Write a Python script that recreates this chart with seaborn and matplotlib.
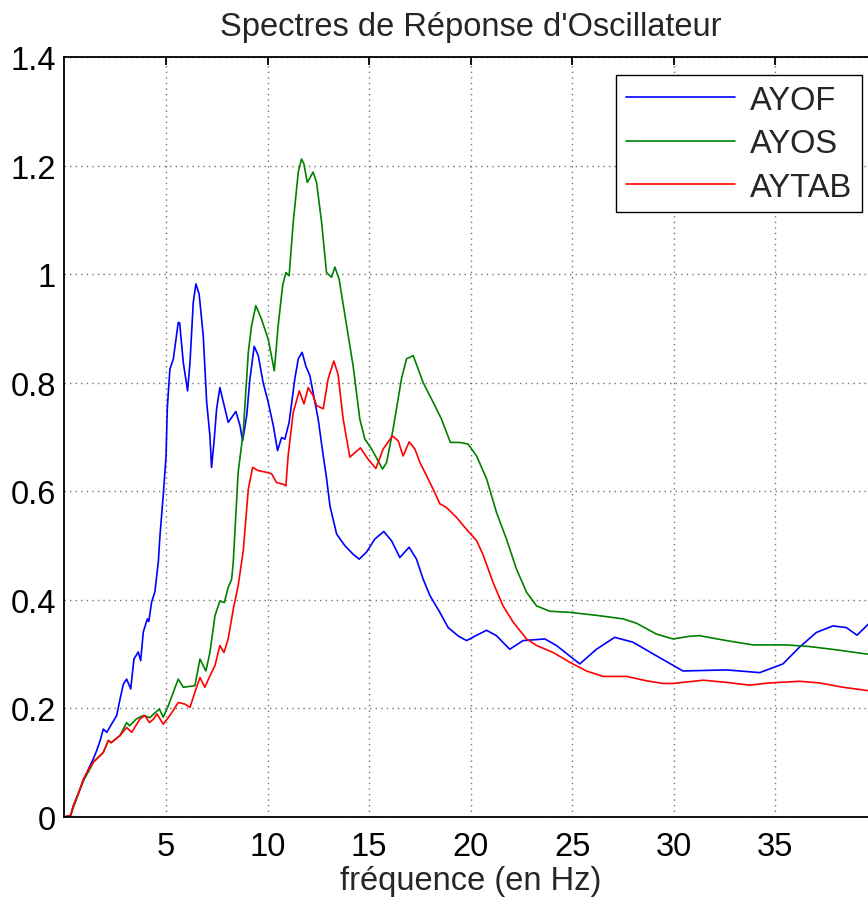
import matplotlib
matplotlib.use("Agg")
import matplotlib.pyplot as plt
import numpy as np
import pandas as pd
import seaborn as sns

# Oscillator response spectra (frequency in Hz, spectral amplitude)
freq_ayof = [0, 0.3, 0.43, 0.7, 0.93, 1.2, 1.42, 1.58, 1.75, 1.91, 2.08, 2.3, 2.57, 2.75, 2.9,
             3.06, 3.26, 3.42, 3.63, 3.75, 3.88, 4.08, 4.15, 4.29, 4.45, 4.62, 4.7, 4.86, 5.0,
             5.06, 5.19, 5.36, 5.6, 5.67, 5.85, 6.06, 6.18, 6.34, 6.47, 6.63, 6.83, 7.0, 7.16,
             7.24, 7.36, 7.49, 7.65, 8.06, 8.44, 8.64, 8.77, 8.97, 9.13, 9.34, 9.54, 9.78, 10.03,
             10.28, 10.49, 10.69, 10.85, 11.06, 11.34, 11.51, 11.7, 11.88, 12.08, 12.24, 12.49,
             12.74, 12.9, 13.07, 13.4, 13.8, 14.21, 14.51, 14.87, 15.28, 15.72, 16.1, 16.51,
             16.97, 17.33, 17.66, 17.99, 18.48, 18.89, 19.4, 19.8, 20.3, 20.78, 21.27, 21.92,
             22.58, 23.65, 24.22, 25.37, 26.19, 27.09, 27.99, 29.14, 30.45, 32.59, 34.23, 35.37,
             36.19, 37.02, 37.83, 38.49, 39.02, 39.54, 39.9]
amp_ayof = [0, 0.003, 0.018, 0.045, 0.067, 0.09, 0.107, 0.122, 0.14, 0.162, 0.156, 0.17, 0.187,
            0.22, 0.245, 0.254, 0.236, 0.291, 0.304, 0.288, 0.341, 0.365, 0.36, 0.396, 0.415,
            0.47, 0.518, 0.592, 0.665, 0.752, 0.825, 0.844, 0.911, 0.91, 0.837, 0.785, 0.838,
            0.948, 0.982, 0.963, 0.887, 0.764, 0.702, 0.644, 0.69, 0.752, 0.791, 0.727, 0.747,
            0.721, 0.693, 0.739, 0.807, 0.867, 0.85, 0.8, 0.764, 0.721, 0.675, 0.699, 0.696,
            0.727, 0.807, 0.844, 0.856, 0.831, 0.813, 0.782, 0.733, 0.665, 0.625, 0.573, 0.521,
            0.5, 0.484, 0.475, 0.488, 0.512, 0.526, 0.509, 0.478, 0.497, 0.475, 0.438, 0.408,
            0.377, 0.349, 0.333, 0.325, 0.335, 0.344, 0.334, 0.309, 0.325, 0.328, 0.316, 0.282,
            0.309, 0.331, 0.322, 0.297, 0.269, 0.271, 0.266, 0.282, 0.313, 0.34, 0.352, 0.349,
            0.335, 0.354, 0.365]

freq_ayos = [0, 0.3, 0.43, 0.7, 0.93, 1.2, 1.42, 1.91, 2.16, 2.3, 2.73, 3.06, 3.2, 3.55, 3.88,
             4.2, 4.4, 4.67, 4.86, 5.11, 5.36, 5.6, 5.85, 6.42, 6.67, 6.96, 7.16, 7.41, 7.65,
             7.87, 8.06, 8.23, 8.31, 8.55, 8.8, 9.05, 9.21, 9.42, 9.7, 10.03, 10.33, 10.52, 10.74,
             10.9, 11.06, 11.26, 11.51, 11.67, 11.79, 11.95, 12.05, 12.24, 12.41, 12.66, 12.9,
             13.15, 13.31, 13.52, 13.89, 14.21, 14.54, 14.79, 15.12, 15.44, 15.66, 15.86, 16.18,
             16.59, 16.84, 17.17, 17.66, 18.15, 18.56, 19.0, 19.46, 19.87, 20.29, 20.78, 21.27,
             21.76, 22.25, 22.75, 23.24, 23.89, 24.88, 26.3, 27.5, 28.16, 29.14, 29.96, 30.78,
             31.27, 32.59, 33.9, 35.54, 36.69, 38.0, 39.54, 39.9]
amp_ayos = [0, 0.003, 0.018, 0.045, 0.067, 0.085, 0.101, 0.119, 0.141, 0.137, 0.15, 0.174,
            0.168, 0.181, 0.187, 0.183, 0.19, 0.199, 0.184, 0.205, 0.23, 0.254, 0.239, 0.242,
            0.291, 0.269, 0.303, 0.371, 0.398, 0.395, 0.423, 0.438, 0.47, 0.635, 0.709, 0.856,
            0.905, 0.942, 0.917, 0.88, 0.822, 0.905, 0.979, 1.003, 0.997, 1.095, 1.188, 1.212,
            1.203, 1.169, 1.175, 1.188, 1.169, 1.095, 1.003, 0.994, 1.013, 0.991, 0.905, 0.831,
            0.733, 0.696, 0.678, 0.656, 0.641, 0.653, 0.715, 0.807, 0.844, 0.85, 0.8, 0.764,
            0.733, 0.69, 0.69, 0.687, 0.665, 0.623, 0.561, 0.512, 0.457, 0.414, 0.389, 0.379,
            0.377, 0.371, 0.365, 0.357, 0.337, 0.328, 0.333, 0.334, 0.325, 0.317, 0.317, 0.314,
            0.308, 0.3, 0.298]

freq_aytab = [0, 0.3, 0.43, 0.7, 0.93, 1.2, 1.42, 1.91, 2.16, 2.3, 2.73, 3.06, 3.31, 3.72, 3.96,
              4.18, 4.4, 4.55, 4.7, 4.86, 5.19, 5.6, 5.93, 6.18, 6.42, 6.67, 6.91, 7.16, 7.41,
              7.65, 7.85, 8.06, 8.31, 8.55, 8.8, 9.05, 9.26, 9.54, 9.95, 10.2, 10.44, 10.77, 10.9,
              11.01, 11.26, 11.56, 11.79, 12.0, 12.24, 12.41, 12.74, 12.98, 13.26, 13.47, 13.72,
              14.05, 14.57, 14.95, 15.33, 15.69, 16.15, 16.43, 16.67, 16.97, 17.25, 17.5, 17.82,
              18.15, 18.48, 18.81, 19.3, 19.79, 20.29, 20.61, 21.1, 21.59, 22.09, 22.75, 23.24,
              24.06, 24.88, 25.7, 26.52, 27.67, 28.65, 29.47, 29.96, 31.44, 32.59, 33.74, 34.72,
              36.19, 37.18, 38.33, 39.54, 39.9]
amp_aytab = [0, 0.003, 0.021, 0.045, 0.07, 0.088, 0.101, 0.119, 0.141, 0.137, 0.15, 0.165, 0.156,
             0.181, 0.187, 0.174, 0.181, 0.19, 0.181, 0.171, 0.187, 0.211, 0.208, 0.202, 0.23,
             0.257, 0.239, 0.26, 0.279, 0.316, 0.303, 0.328, 0.383, 0.426, 0.49, 0.604, 0.644,
             0.638, 0.635, 0.632, 0.616, 0.613, 0.61, 0.665, 0.745, 0.785, 0.761, 0.791, 0.776,
             0.758, 0.752, 0.807, 0.84, 0.815, 0.733, 0.663, 0.68, 0.659, 0.642, 0.678, 0.702,
             0.693, 0.665, 0.691, 0.678, 0.653, 0.629, 0.604, 0.577, 0.57, 0.552, 0.53, 0.509,
             0.483, 0.432, 0.389, 0.359, 0.328, 0.316, 0.303, 0.285, 0.269, 0.259, 0.259, 0.251,
             0.246, 0.246, 0.252, 0.248, 0.243, 0.247, 0.25, 0.247, 0.239, 0.233, 0.231]

series_names = ["AYOF", "AYOS", "AYTAB"]
series_colors = ["#0000ff", "#008000", "#ff0000"]
x_ticks = [5, 10, 15, 20, 25, 30, 35]
y_ticks = [0, 0.2, 0.4, 0.6, 0.8, 1.0, 1.2, 1.4]
y_tick_labels = ["0", "0.2", "0.4", "0.6", "0.8", "1", "1.2", "1.4"]

df = pd.concat([
    pd.DataFrame({"freq": freq_ayof, "amp": amp_ayof, "signal": "AYOF"}),
    pd.DataFrame({"freq": freq_ayos, "amp": amp_ayos, "signal": "AYOS"}),
    pd.DataFrame({"freq": freq_aytab, "amp": amp_aytab, "signal": "AYTAB"}),
], ignore_index=True)

sns.set_theme(style="white")
plt.rcParams["font.family"] = ["Liberation Sans", "DejaVu Sans"]
FS = 23.5

fig = plt.figure(figsize=(8.68, 9.03), dpi=100)
ax = fig.add_axes([0.0743, 0.0941, 0.936, 0.8417])

sns.lineplot(data=df, x="freq", y="amp", hue="signal", hue_order=series_names,
             palette=dict(zip(series_names, series_colors)), estimator=None,
             sort=False, linewidth=1.2, ax=ax)

ax.set_xlim(0, 40)
ax.set_ylim(0, 1.4)
ax.set_xticks(x_ticks)
ax.set_xticklabels([str(t) for t in x_ticks])
ax.set_yticks(y_ticks)
ax.set_yticklabels(y_tick_labels)

ax.grid(True, linestyle=(0, (1, 3)), color="0.45", linewidth=1.0)
ax.set_axisbelow(True)
for side in ["left", "bottom", "top", "right"]:
    ax.spines[side].set_color("black")
    ax.spines[side].set_linewidth(1.3)
    ax.spines[side].set_visible(True)

ax.tick_params(axis="both", which="major", direction="in", length=6, width=1.3,
               top=True, right=True, labelsize=FS, colors="black")
ax.tick_params(axis="x", pad=10)
ax.tick_params(axis="y", pad=6)

ax.set_title("Spectres de Réponse d'Oscillateur", fontsize=FS, pad=16)
ax.set_xlabel("fréquence (en Hz)", fontsize=FS, labelpad=2)
ax.set_ylabel("")

leg = ax.legend(loc="upper right", bbox_to_anchor=(862 / 868, 1 - 76 / 903),
                bbox_transform=fig.transFigure, borderaxespad=0, fontsize=FS,
                frameon=True, fancybox=False, handlelength=3.35, handletextpad=0.45,
                labelspacing=0.38, borderpad=0.3)
leg.get_frame().set_edgecolor("black")
leg.get_frame().set_linewidth(1.0)
leg.get_frame().set_facecolor("white")
leg.get_frame().set_alpha(1.0)

fig.savefig("out.png", dpi=100)
